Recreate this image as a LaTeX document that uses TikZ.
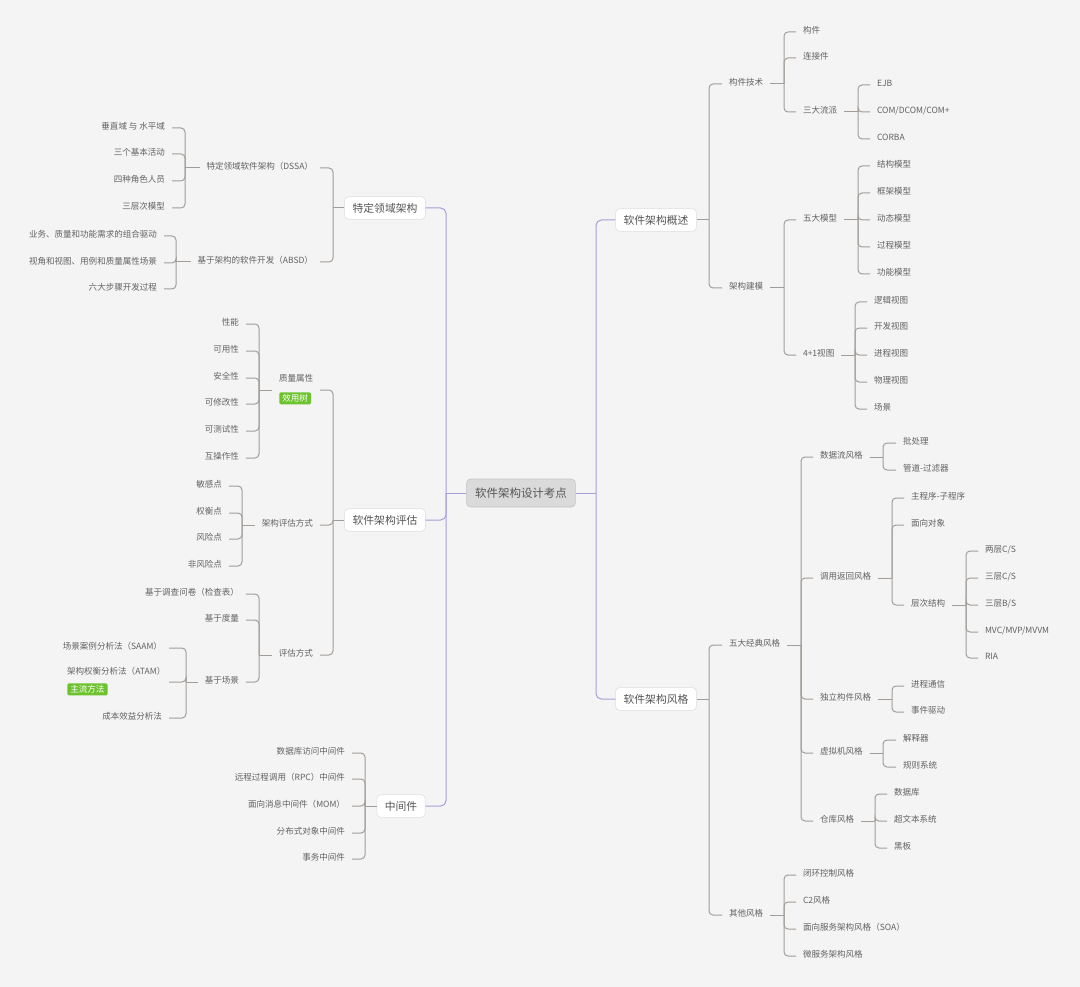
\documentclass[tikz,border=0pt]{standalone}
\usepackage{fontspec}
\setmainfont{Noto Sans CJK SC}
\usepackage{xcolor}
\usepackage{tikz}

\definecolor{bgray}{HTML}{F4F4F4}
\definecolor{leafgray}{HTML}{626262}
\definecolor{topicgray}{HTML}{555555}
\definecolor{topicline}{HTML}{DEDEDE}
\definecolor{rootfill}{HTML}{DADADA}
\definecolor{rootline}{HTML}{C4C4C4}
\definecolor{linkgray}{HTML}{A29D99}
\definecolor{mainpurple}{HTML}{A79FD8}
\definecolor{taggreen}{HTML}{6DC32E}

\begin{document}
\begin{tikzpicture}[
  x=0.75pt, y=-0.75pt,
  leaf/.style  = {inner sep=0pt, outer sep=5.25pt, text=leafgray,
    text height=5.6pt, text depth=3pt, font=\fontsize{6.4}{7.7}\selectfont},
  tag/.style   = {fill=taggreen, text=white, rounded corners=1.5pt,
    inner xsep=2.3pt, inner ysep=1.6pt, font=\fontsize{6.4}{7.7}\selectfont},
  topic/.style = {draw=topicline, fill=white, rounded corners=3pt, text=topicgray,
    inner xsep=6pt, minimum height=17pt, font=\fontsize{8.1}{9.7}\selectfont},
  root/.style  = {topic, draw=rootline, fill=rootfill, inner xsep=6.4pt,
    minimum height=21pt, font=\fontsize{8.6}{10.3}\selectfont},
  link/.style  = {draw=linkgray, line width=0.75pt, rounded corners=3pt},
  mainlink/.style = {link, draw=mainpurple, rounded corners=4pt},
]
  \fill[bgray] (0,0) rectangle (1080,987);
  \useasboundingbox (0,0) rectangle (1080,987);

  \node[root]  (root) at (521,493) {软件架构设计考点};
  \coordinate (jl) at (446,493);
  \coordinate (jr) at (596,493);
  \node[topic] (dsa)  at (385,208) {特定领域架构};
  \node[topic] (eval) at (385,520) {软件架构评估};
  \node[topic] (mid)  at (401,806) {中间件};
  \node[topic] (ovw)  at (656,220) {软件架构概述};
  \node[topic] (sty)  at (656,699) {软件架构风格};
  \draw[mainlink] (root.west) -- (jl);
  \draw[mainlink] (root.east) -- (jr);
  \foreach \n in {dsa,eval,mid} \draw[mainlink] (jl) |- (\n.east);
  \foreach \n in {ovw,sty} \draw[mainlink] (jr) |- (\n.west);

  % left: 特定领域架构
  \coordinate (jdsa) at (333,208);
  \draw[link] (dsa.west) -- (jdsa);
  \node[leaf, anchor=east] (dssa) at (320,168) {特定领域软件架构（DSSA）};
  \node[leaf, anchor=east] (absd) at (320,262) {基于架构的软件开发（ABSD）};
  \draw[link] (jdsa) |- (dssa.east);
  \draw[link] (jdsa) |- (absd.east);
  \coordinate (jdssa) at (185,168);
  \coordinate (jabsd) at (176,262);
  \draw[link] (dssa.west) -- (jdssa);
  \draw[link] (absd.west) -- (jabsd);
  \foreach \txt/\yy [count=\i] in {垂直域 与 水平域/128, 三个基本活动/154, 四种角色人员/181, 三层次模型/208}{
    \node[leaf, anchor=east] (dssa\i) at (172,\yy) {\txt};
    \draw[link] (jdssa) |- (dssa\i.east);
  }
  \foreach \txt/\yy [count=\i] in {业务、质量和功能需求的组合驱动/236, 视角和视图、用例和质量属性场景/263, 六大步骤开发过程/289}{
    \node[leaf, anchor=east] (absd\i) at (164,\yy) {\txt};
    \draw[link] (jabsd) |- (absd\i.east);
  }

  % left: 软件架构评估
  \coordinate (jeval) at (333,520);
  \draw[link] (eval.west) -- (jeval);
  \node[leaf, anchor=west] (qa) at (272,380) {质量属性};
  \node[tag, anchor=north west] (qatag) at (279,392) {效用树};
  \coordinate (qae) at (320,390);
  \draw[link] (jeval) |- (qae);
  \coordinate (jqa) at (259,390);
  \draw[link] (qa.west |- qae) -- (jqa);
  \foreach \txt/\yy [count=\i] in {性能/324, 可用性/351, 安全性/378, 可修改性/404, 可测试性/431, 互操作性/458}{
    \node[leaf, anchor=east] (qa\i) at (246,\yy) {\txt};
    \draw[link] (jqa) |- (qa\i.east);
  }
  \node[leaf, anchor=east] (evm) at (320,525) {架构评估方式};
  \draw[link] (jeval) |- (evm.east);
  \coordinate (jevm) at (242,525);
  \draw[link] (evm.west) -- (jevm);
  \foreach \txt/\yy [count=\i] in {敏感点/486, 权衡点/513, 风险点/539, 非风险点/566}{
    \node[leaf, anchor=east] (evm\i) at (229,\yy) {\txt};
    \draw[link] (jevm) |- (evm\i.east);
  }
  \node[leaf, anchor=east] (evw) at (320,655) {评估方式};
  \draw[link] (jeval) |- (evw.east);
  \coordinate (jevw) at (259,655);
  \draw[link] (evw.west) -- (jevw);
  \foreach \txt/\yy [count=\i] in {基于调查问卷（检查表）/594, 基于度量/620}{
    \node[leaf, anchor=east] (evw\i) at (246,\yy) {\txt};
    \draw[link] (jevw) |- (evw\i.east);
  }
  \node[leaf, anchor=east] (scen) at (246,682) {基于场景};
  \draw[link] (jevw) |- (scen.east);
  \coordinate (jscen) at (186,682);
  \draw[link] (scen.west) -- (jscen);
  \node[leaf, anchor=east] (saam) at (169,648) {场景案例分析法（SAAM）};
  \node[leaf, anchor=west] (atam) at (60,673) {架构权衡分析法（ATAM）};
  \node[tag, anchor=north west] (atamtag) at (67,683) {主流方法};
  \coordinate (atame) at (169,682);
  \node[leaf, anchor=east] (cba) at (169,718) {成本效益分析法};
  \draw[link] (jscen) |- (saam.east);
  \draw[link] (jscen) |- (atame);
  \draw[link] (jscen) |- (cba.east);

  % left: 中间件
  \coordinate (jmid) at (365,806);
  \draw[link] (mid.west) -- (jmid);
  \foreach \txt/\yy [count=\i] in {数据库访问中间件/753, 远程过程调用（RPC）中间件/779, 面向消息中间件（MOM）/806, 分布式对象中间件/833, 事务中间件/859}{
    \node[leaf, anchor=east] (mid\i) at (352,\yy) {\txt};
    \draw[link] (jmid) |- (mid\i.east);
  }

  % right: 软件架构概述
  \coordinate (jovw) at (709,220);
  \draw[link] (ovw.east) -- (jovw);
  \node[leaf, anchor=west] (ctech) at (722,84) {构件技术};
  \node[leaf, anchor=west] (amod) at (722,288) {架构建模};
  \draw[link] (jovw) |- (ctech.west);
  \draw[link] (jovw) |- (amod.west);
  \coordinate (jctech) at (784,84);
  \draw[link] (ctech.east) -- (jctech);
  \foreach \txt/\yy [count=\i] in {构件/32, 连接件/58}{
    \node[leaf, anchor=west] (ctech\i) at (796,\yy) {\txt};
    \draw[link] (jctech) |- (ctech\i.west);
  }
  \node[leaf, anchor=west] (three) at (796,112) {三大流派};
  \draw[link] (jctech) |- (three.west);
  \coordinate (jthree) at (858,112);
  \draw[link] (three.east) -- (jthree);
  \foreach \txt/\yy [count=\i] in {EJB/85, {COM/DCOM/COM+}/112, CORBA/139}{
    \node[leaf, anchor=west] (three\i) at (870,\yy) {\txt};
    \draw[link] (jthree) |- (three\i.west);
  }
  \coordinate (jamod) at (784,288);
  \draw[link] (amod.east) -- (jamod);
  \node[leaf, anchor=west] (five) at (796,220) {五大模型};
  \node[leaf, anchor=west] (view) at (796,355) {4+1视图};
  \draw[link] (jamod) |- (five.west);
  \draw[link] (jamod) |- (view.west);
  \coordinate (jfive) at (858,220);
  \draw[link] (five.east) -- (jfive);
  \foreach \txt/\yy [count=\i] in {结构模型/166, 框架模型/193, 动态模型/220, 过程模型/247, 功能模型/274}{
    \node[leaf, anchor=west] (five\i) at (870,\yy) {\txt};
    \draw[link] (jfive) |- (five\i.west);
  }
  \coordinate (jview) at (855,355);
  \draw[link] (view.east) -- (jview);
  \foreach \txt/\yy [count=\i] in {逻辑视图/302, 开发视图/328, 进程视图/355, 物理视图/382, 场景/409}{
    \node[leaf, anchor=west] (view\i) at (867,\yy) {\txt};
    \draw[link] (jview) |- (view\i.west);
  }

  % right: 软件架构风格
  \coordinate (jsty) at (709,699);
  \draw[link] (sty.east) -- (jsty);
  \node[leaf, anchor=west] (classic) at (722,645) {五大经典风格};
  \node[leaf, anchor=west] (other) at (722,915) {其他风格};
  \draw[link] (jsty) |- (classic.west);
  \draw[link] (jsty) |- (other.west);
  \coordinate (jclassic) at (801,645);
  \draw[link] (classic.east) -- (jclassic);
  \node[leaf, anchor=west] (flow)    at (813,457) {数据流风格};
  \node[leaf, anchor=west] (callret) at (813,578) {调用返回风格};
  \node[leaf, anchor=west] (indep)   at (813,699) {独立构件风格};
  \node[leaf, anchor=west] (vm)      at (813,753) {虚拟机风格};
  \node[leaf, anchor=west] (repo)    at (813,821) {仓库风格};
  \foreach \n in {flow,callret,indep,vm,repo} \draw[link] (jclassic) |- (\n.west);

  \coordinate (jflow) at (883,457);
  \draw[link] (flow.east) -- (jflow);
  \foreach \txt/\yy [count=\i] in {批处理/443, 管道-过滤器/470}{
    \node[leaf, anchor=west] (flow\i) at (896,\yy) {\txt};
    \draw[link] (jflow) |- (flow\i.west);
  }
  \coordinate (jcallret) at (892,578);
  \draw[link] (callret.east) -- (jcallret);
  \foreach \txt/\yy [count=\i] in {主程序-子程序/498, 面向对象/525}{
    \node[leaf, anchor=west] (callret\i) at (904,\yy) {\txt};
    \draw[link] (jcallret) |- (callret\i.west);
  }
  \node[leaf, anchor=west] (layer) at (904,605) {层次结构};
  \draw[link] (jcallret) |- (layer.west);
  \coordinate (jlayer) at (966,605);
  \draw[link] (layer.east) -- (jlayer);
  \foreach \txt/\yy [count=\i] in {{两层C/S}/551, {三层C/S}/578, {三层B/S}/605, {MVC/MVP/MVVM}/632, RIA/658}{
    \node[leaf, anchor=west] (layer\i) at (978,\yy) {\txt};
    \draw[link] (jlayer) |- (layer\i.west);
  }
  \coordinate (jindep) at (892,699);
  \draw[link] (indep.east) -- (jindep);
  \foreach \txt/\yy [count=\i] in {进程通信/686, 事件驱动/712}{
    \node[leaf, anchor=west] (indep\i) at (904,\yy) {\txt};
    \draw[link] (jindep) |- (indep\i.west);
  }
  \coordinate (jvm) at (883,753);
  \draw[link] (vm.east) -- (jvm);
  \foreach \txt/\yy [count=\i] in {解释器/740, 规则系统/767}{
    \node[leaf, anchor=west] (vm\i) at (896,\yy) {\txt};
    \draw[link] (jvm) |- (vm\i.west);
  }
  \coordinate (jrepo) at (875,821);
  \draw[link] (repo.east) -- (jrepo);
  \foreach \txt/\yy [count=\i] in {数据库/794, 超文本系统/821, 黑板/848}{
    \node[leaf, anchor=west] (repo\i) at (887,\yy) {\txt};
    \draw[link] (jrepo) |- (repo\i.west);
  }
  \coordinate (jother) at (784,915);
  \draw[link] (other.east) -- (jother);
  \foreach \txt/\yy [count=\i] in {闭环控制风格/875, C2风格/902, 面向服务架构风格（SOA）/929, 微服务架构风格/956}{
    \node[leaf, anchor=west] (other\i) at (796,\yy) {\txt};
    \draw[link] (jother) |- (other\i.west);
  }
\end{tikzpicture}
\end{document}
